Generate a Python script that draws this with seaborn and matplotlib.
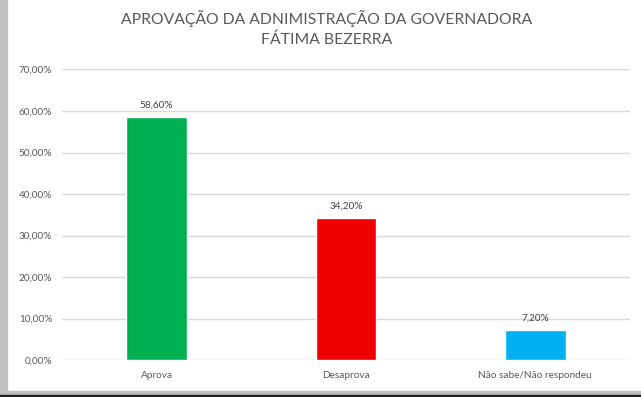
import matplotlib
matplotlib.use("Agg")
import matplotlib.pyplot as plt
import seaborn as sns
import pandas as pd
from matplotlib.patches import Rectangle
from matplotlib.ticker import FuncFormatter

categories = ["Aprova", "Desaprova", "Não sabe/Não respondeu"]
values = [58.6, 34.2, 7.2]
colors = ["#00B050", "#EE0000", "#00B0F0"]
title = "APROVAÇÃO DA ADNIMISTRAÇÃO DA GOVERNADORA\nFÁTIMA BEZERRA"

df = pd.DataFrame({"cat": categories, "val": values})

sns.set_style("white")
plt.rcParams["font.family"] = ["Lato", "DejaVu Sans"]

fig = plt.figure(figsize=(6.41, 3.97), dpi=100)
ax = fig.add_axes([0.0967, 0.093, 0.886, 0.732])

sns.barplot(data=df, x="cat", y="val", hue="cat", palette=colors,
            width=0.32, legend=False, ax=ax, saturation=1)

ax.set_ylim(0, 70)
ax.set_yticks(range(0, 71, 10))
ax.yaxis.set_major_formatter(FuncFormatter(lambda v, p: f"{v:.2f}%".replace(".", ",")))
ax.grid(axis="y", color="#D9D9D9", linewidth=1)
ax.set_axisbelow(True)
for s in ax.spines.values():
    s.set_visible(False)
ax.set_xlabel("")
ax.set_ylabel("")
ax.tick_params(axis="both", length=0, labelsize=7.2, colors="#595959", pad=7)
ax.tick_params(axis="x", pad=8)

for i, v in enumerate(values):
    ax.text(i, v + 1.8, f"{v:.2f}%".replace(".", ","), ha="center", va="bottom",
            fontsize=7.2, color="#404040")

fig.text(0.51, 0.975, title, ha="center", va="top", fontsize=11.3,
         color="#595959", linespacing=1.5)

# frame strips of the original screenshot
fig.patches.append(Rectangle((0, 0), 0.011, 1, transform=fig.transFigure,
                             color="#BFBFBF", zorder=0))
fig.patches.append(Rectangle((0, 0), 1, 0.016, transform=fig.transFigure,
                             color="#BFBFBF", zorder=0))
fig.patches.append(Rectangle((0, 0), 1, 0.004, transform=fig.transFigure,
                             color="#222222", zorder=1))

fig.savefig("out.png", dpi=100)
